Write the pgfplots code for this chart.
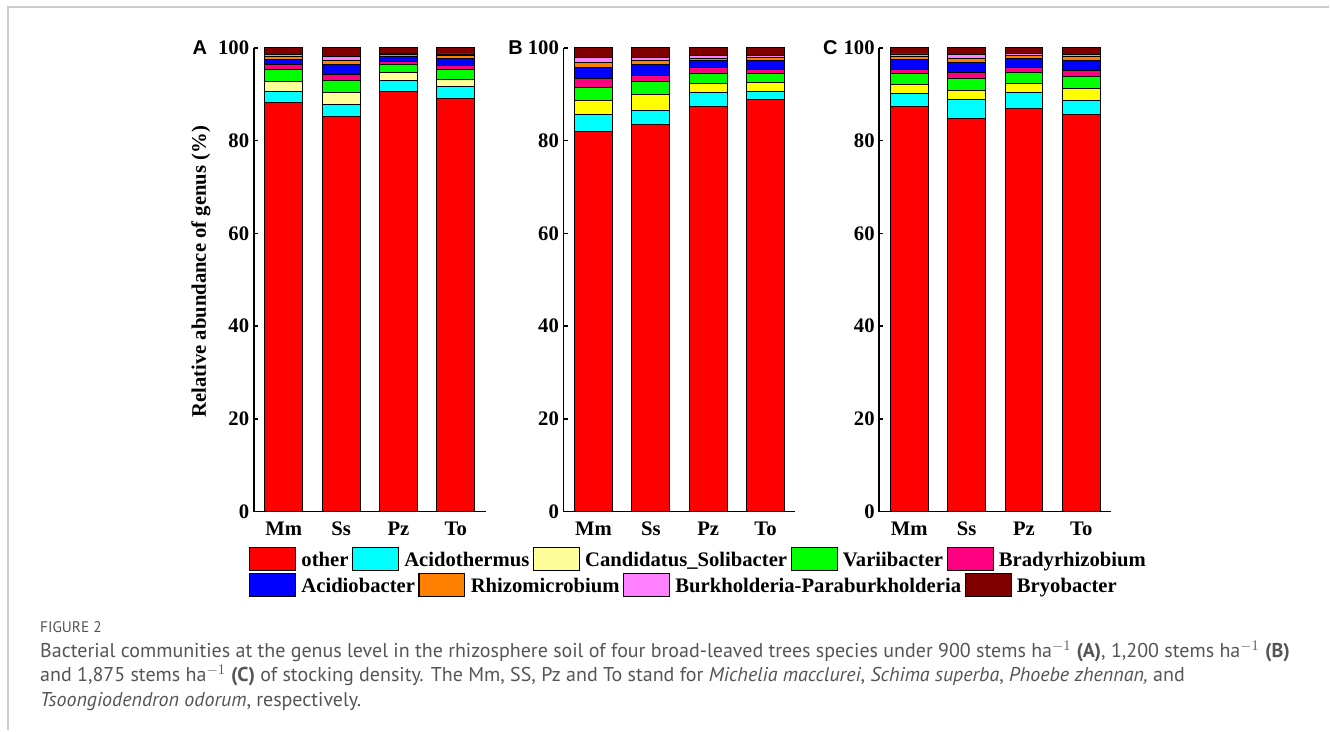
\documentclass[border=0pt]{standalone}
\usepackage{pgfplots}
\pgfplotsset{compat=1.18}
\usepackage{pgfplotstable}
\usepackage{fontspec}
\setmainfont{Liberation Serif}
\newfontfamily\panelfont{Liberation Sans}
\newfontfamily\capfont{PT Sans}

% genus colours
\definecolor{cOther}{RGB}{255,0,0}
\definecolor{cAcido}{RGB}{0,255,255}
\definecolor{cCandPale}{RGB}{255,255,153}
\definecolor{cCand}{RGB}{255,255,0}
\definecolor{cVari}{RGB}{0,255,0}
\definecolor{cBrady}{RGB}{255,0,128}
\definecolor{cAcidio}{RGB}{0,0,255}
\definecolor{cRhizo}{RGB}{255,128,0}
\definecolor{cBurk}{RGB}{255,128,255}
\definecolor{cBryo}{RGB}{128,0,0}
\definecolor{capgray}{RGB}{85,85,85}
\definecolor{framegray}{RGB}{204,204,204}

% relative abundance (%) per species, one table per stocking density
\pgfplotstableread{
x other acido cand vari brady acidio rhizo burk bryo
0 88.3 2.3 2.1 2.7 1.0 1.2 0.5 0.5 1.4
1 85.3 2.5 2.6 2.6 1.3 2.2 0.8 0.9 1.8
2 90.7 2.3 1.8 1.7 0.5 1.1 0.5 0.2 1.2
3 89.0 2.7 1.6 2.1 0.8 1.6 0.5 0.4 1.3
}\tabA
\pgfplotstableread{
x other acido cand vari brady acidio rhizo burk bryo
0 81.9 3.7 3.0 2.9 1.9 2.3 1.1 1.1 2.1
1 83.4 3.2 3.3 2.9 1.2 2.5 0.8 0.6 2.1
2 87.4 3.0 1.9 2.3 1.2 1.5 0.5 0.6 1.6
3 88.8 1.9 1.8 2.0 0.9 1.8 0.7 0.4 1.7
}\tabB
\pgfplotstableread{
x other acido cand vari brady acidio rhizo burk bryo
0 87.4 2.8 2.0 2.3 0.9 2.2 0.5 0.6 1.3
1 84.8 4.1 1.9 2.7 1.3 2.1 0.9 0.8 1.4
2 86.9 3.5 2.0 2.4 1.0 2.0 0.6 0.5 1.1
3 85.6 3.1 2.5 2.7 1.3 2.1 0.8 0.5 1.4
}\tabC

\newcommand\lblfont{\fontsize{15.5}{18}\selectfont\bfseries}

\pgfplotsset{
  panel/.style={
    scale only axis, width=174pt, height=348pt,
    anchor=south west,
    xmin=-0.52, xmax=3.52, ymin=0, ymax=100,
    ybar stacked, bar width=0.66,
    axis x line*=bottom, axis y line*=left,
    axis line style={line width=1.3pt, -},
    xtick={0,1,2,3}, xticklabels={Mm,Ss,Pz,To},
    x tick style={draw=none},
    ytick={0,20,...,100},
    y tick style={line width=1pt, black},
    tick align=inside, major tick length=3pt,
    /pgf/number format/assume math mode=true,
    tick label style={font=\lblfont},
    xticklabel style={yshift=-4pt},
    every axis plot/.append style={draw=black, line width=0.7pt},
  },
  legrow/.style={
    hide axis, scale only axis, width=10pt, height=10pt,
    xmin=0, xmax=1, ymin=0, ymax=1, anchor=south west,
    legend columns=-1,
    legend style={at={(0,0)}, anchor=west, draw=none, fill=none,
      inner sep=0pt, font=\lblfont,
      nodes={inner sep=0pt},
      /tikz/every odd column/.append style={column sep=4pt},
      /tikz/every even column/.append style={column sep=2.6pt}},
    legend image code/.code={
      \draw[##1, draw=black, line width=0.8pt] (0pt,-7.5pt) rectangle (34.5pt,9.5pt);},
  },
}

\newcommand\stackbars[2]{%
  \addplot[fill=cOther]  table[x=x,y=other]{#1};
  \addplot[fill=cAcido]  table[x=x,y=acido]{#1};
  \addplot[fill=#2]      table[x=x,y=cand]{#1};
  \addplot[fill=cVari]   table[x=x,y=vari]{#1};
  \addplot[fill=cBrady]  table[x=x,y=brady]{#1};
  \addplot[fill=cAcidio] table[x=x,y=acidio]{#1};
  \addplot[fill=cRhizo]  table[x=x,y=rhizo]{#1};
  \addplot[fill=cBurk]   table[x=x,y=burk]{#1};
  \addplot[fill=cBryo]   table[x=x,y=bryo]{#1};
}

\begin{document}
\begin{tikzpicture}
  % page area, 1 px = 0.75pt
  \fill[white] (0pt,0pt) rectangle (997.5pt,548.25pt);
  \draw[framegray, line width=1.5pt] (6pt,0pt) -- (6pt,543pt) -- (997.5pt,543pt);

  \begin{axis}[panel, at={(190.5pt,164.25pt)}]
    \stackbars{\tabA}{cCandPale}
  \end{axis}
  \begin{axis}[panel, at={(423pt,164.25pt)}]
    \stackbars{\tabB}{cCand}
  \end{axis}
  \begin{axis}[panel, at={(660pt,164.25pt)}]
    \stackbars{\tabC}{cCand}
  \end{axis}

  \node[rotate=90, font=\lblfont] at (150.75pt,344.25pt) {Relative abundance of genus (\%)};
  \node[font=\panelfont\fontsize{15}{18}\selectfont\bfseries] at (150pt,512.25pt) {A};
  \node[font=\panelfont\fontsize{15}{18}\selectfont\bfseries] at (387pt,512.25pt) {B};
  \node[font=\panelfont\fontsize{15}{18}\selectfont\bfseries] at (623.25pt,512.25pt) {C};

  \begin{axis}[legrow, at={(186.75pt,128.7pt)}]
    \addlegendimage{fill=cOther}   \addlegendentry{other}
    \addlegendimage{fill=cAcido}   \addlegendentry{Acidothermus}
    \addlegendimage{fill=cCandPale}\addlegendentry{Candidatus\_Solibacter}
    \addlegendimage{fill=cVari}    \addlegendentry{Variibacter}
    \addlegendimage{fill=cBrady}   \addlegendentry{Bradyrhizobium}
  \end{axis}
  \begin{axis}[legrow, at={(186.75pt,109.2pt)}]
    \addlegendimage{fill=cAcidio}  \addlegendentry{Acidiobacter}
    \addlegendimage{fill=cRhizo}   \addlegendentry{Rhizomicrobium}
    \addlegendimage{fill=cBurk}    \addlegendentry{Burkholderia-Paraburkholderia}
    \addlegendimage{fill=cBryo}    \addlegendentry{Bryobacter}
  \end{axis}

  \begin{scope}[capgray]
    \node[anchor=base west, inner sep=0pt, font=\capfont\fontsize{11.5}{13}\selectfont] at (30pt,73.5pt) {FIGURE 2};
    \node[anchor=base west, inner sep=0pt, font=\capfont\fontsize{15}{18}\selectfont] at (30pt,55pt)
      {Bacterial communities at the genus level in the rhizosphere soil of four broad-leaved trees species under 900 stems ha$^{-1}$ \textbf{(A)}, 1,200 stems ha$^{-1}$ \textbf{(B)}};
    \node[anchor=base west, inner sep=0pt, font=\capfont\fontsize{15}{18}\selectfont] at (30pt,36.6pt)
      {and 1,875 stems ha$^{-1}$ \textbf{(C)} of stocking density. The Mm, SS, Pz and To stand for \textit{Michelia macclurei}, \textit{Schima superba}, \textit{Phoebe zhennan,} and};
    \node[anchor=base west, inner sep=0pt, font=\capfont\fontsize{15}{18}\selectfont] at (30pt,18.3pt)
      {\textit{Tsoongiodendron odorum}, respectively.};
  \end{scope}
\end{tikzpicture}
\end{document}
